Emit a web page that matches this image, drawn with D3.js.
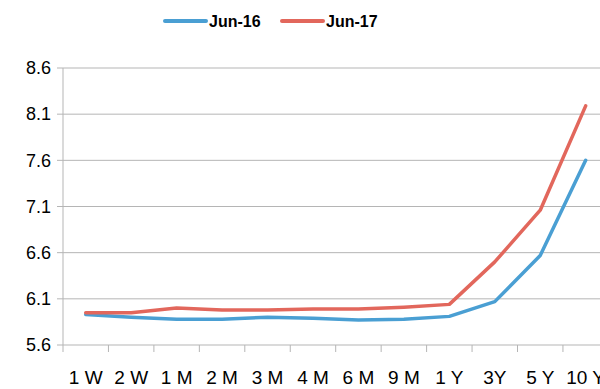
<!DOCTYPE html>
<html>
<head>
<meta charset="utf-8">
<script src="https://cdn.jsdelivr.net/npm/d3@7"></script>
<style>
  body { margin: 0; background: #fff; }
  svg { display: block; font-family: "Liberation Sans", Arial, sans-serif; }
</style>
</head>
<body>
<div id="viz"></div>
<script>
const width = 600
const height = 389

// tenors on the x axis
const tenors = ["1 W", "2 W", "1 M", "2 M", "3 M", "4 M", "6 M", "9 M", "1 Y", "3Y", "5 Y", "10 Y"]
// yields
const jun16 = [5.93, 5.90, 5.88, 5.88, 5.90, 5.89, 5.87, 5.88, 5.91, 6.07, 6.57, 7.60]
const jun17 = [5.95, 5.95, 6.00, 5.98, 5.98, 5.99, 5.99, 6.01, 6.04, 6.50, 7.06, 8.19]
const yTicks = [5.6, 6.1, 6.6, 7.1, 7.6, 8.1, 8.6]

const seriesNames = ["Jun-16", "Jun-17"]
const seriesColors = ["#4a9fd3", "#e2675c"]
const seriesData = [jun16, jun17]

const gridColor = "#b5b5b5"

const svg = d3.select("#viz").append("svg").attr("width", width).attr("height", height)

const xScale = d3.scaleBand().domain(tenors).range([63, 608.4])
const yScale = d3.scaleLinear().domain([5.6, 8.6]).range([345, 68])

// gridlines
svg.append("g").selectAll("line").data(yTicks).enter().append("line")
    .attr("x1", 57).attr("x2", width)
    .attr("y1", d => yScale(d)).attr("y2", d => yScale(d))
    .attr("stroke", gridColor).attr("stroke-width", 1)

// y axis
const yAxis = d3.axisLeft(yScale).tickValues(yTicks).tickFormat(d3.format(".1f")).tickSize(0).tickPadding(12)
const yAxisGroup = svg.append("g").attr("transform", `translate(63, 0)`).call(yAxis)
yAxisGroup.select(".domain").remove()
yAxisGroup.selectAll("text").attr("fill", "#000").attr("font-size", 18).attr("font-family", "Liberation Sans, Arial, sans-serif")
svg.append("line").attr("x1", 63).attr("x2", 63).attr("y1", 68).attr("y2", 352)
    .attr("stroke", gridColor).attr("stroke-width", 1)

// x axis ticks at band boundaries
const xAxis = d3.axisBottom(xScale).tickSize(0).tickPadding(26)
const xAxisGroup = svg.append("g").attr("transform", `translate(0, 345)`).call(xAxis)
xAxisGroup.select(".domain").remove()
xAxisGroup.selectAll("text").attr("fill", "#000").attr("font-size", 19).attr("font-family", "Liberation Sans, Arial, sans-serif")
svg.append("g").selectAll("line").data(tenors).enter().append("line")
    .attr("x1", d => xScale(d) + xScale.bandwidth()).attr("x2", d => xScale(d) + xScale.bandwidth())
    .attr("y1", 345).attr("y2", 352)
    .attr("stroke", gridColor).attr("stroke-width", 1)

// lines
const line = d3.line().x((d, i) => xScale(tenors[i]) + xScale.bandwidth() / 2).y(d => yScale(d))
svg.append("g").selectAll("path").data(seriesData).enter().append("path")
    .attr("d", d => line(d))
    .attr("fill", "none").attr("stroke", (d, i) => seriesColors[i])
    .attr("stroke-width", 3.5).attr("stroke-linejoin", "round").attr("stroke-linecap", "round")

// legend
const legendX = [165, 282]
const legend = svg.append("g").selectAll("g").data(seriesNames).enter().append("g")
    .attr("transform", (d, i) => `translate(${legendX[i]}, 21)`)
legend.append("line").attr("x1", 0).attr("x2", 41).attr("y1", 0).attr("y2", 0)
    .attr("stroke", (d, i) => seriesColors[i]).attr("stroke-width", 4).attr("stroke-linecap", "round")
legend.append("text").attr("x", 44).attr("y", 0).attr("dy", "0.35em")
    .attr("font-size", 16).attr("font-weight", "bold").attr("fill", "#000").text(d => d)
</script>
</body>
</html>
